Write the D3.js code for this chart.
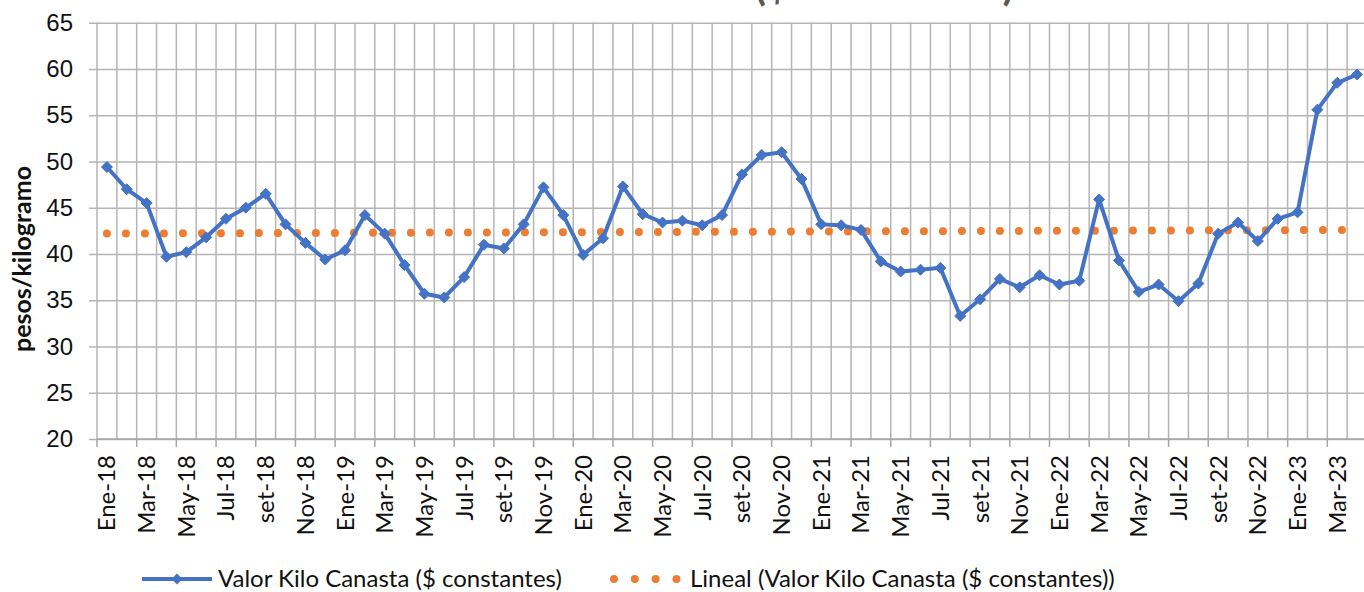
<!DOCTYPE html>
<html>
<head>
<meta charset="utf-8">
<script src="https://cdn.jsdelivr.net/npm/d3@7"></script>
<style>
  body { margin: 0; background: #fff; }
  svg { display: block; font-family: Lato, "Noto Sans", sans-serif; }
</style>
</head>
<body>
<div id="chart"></div>
<script>
  // month labels (Spanish, as in the original sheet)
  const monthNames = ['Ene','Feb','Mar','Abr','May','Jun','Jul','Ago','set','Oct','Nov','Dic'];
  const years = ['18','19','20','21','22','23'];
  const months = years.flatMap(y => monthNames.map(m => m + '-' + y)).slice(0, 64);

  // valor kilo canasta, $ constantes
  const values = [
    49.4, 47.0, 45.5, 39.7, 40.2, 41.8, 43.8, 45.0, 46.5, 43.2, 41.2, 39.4,
    40.4, 44.2, 42.2, 38.8, 35.7, 35.3, 37.5, 41.0, 40.6, 43.2, 47.2, 44.2,
    39.9, 41.7, 47.3, 44.3, 43.4, 43.6, 43.1, 44.2, 48.6, 50.7, 51.0, 48.1,
    43.2, 43.1, 42.6, 39.2, 38.1, 38.3, 38.5, 33.3, 35.1, 37.3, 36.4, 37.7,
    36.7, 37.1, 45.9, 39.3, 35.9, 36.7, 34.9, 36.8, 42.2, 43.4, 41.4, 43.8,
    44.5, 55.6, 58.5, 59.4
  ];

  const yTicks = [20, 25, 30, 35, 40, 45, 50, 55, 60, 65];

  const seriesName = 'Valor Kilo Canasta ($ constantes)';
  const trendName = 'Lineal (Valor Kilo Canasta ($ constantes))';

  const width = 1364, height = 592;
  const margins = {top: 22.7, right: -3, bottom: 153, left: 97};
  const fontSize = '24px';

  const blue = '#4472C4', orange = '#ED7D31', grid = '#b5b5b5';

  const svg = d3.select('#chart')
    .append('svg')
      .attr('width', width)
      .attr('height', height);

  const xScale = d3.scaleBand()
    .domain(months)
    .range([margins.left, width - margins.right])
    .padding(0);

  const yScale = d3.scaleLinear()
    .domain([20, 65])
    .range([height - margins.bottom, margins.top]);

  const cx = d => xScale(d) + xScale.bandwidth() / 2;

  // horizontal gridlines + y labels
  const yAxis = d3.axisLeft(yScale)
    .tickValues(yTicks)
    .tickSize(-(width - margins.right - margins.left) - 8)
    .tickPadding(16);

  const yGroup = svg.append('g')
    .attr('transform', `translate(${margins.left - 8}, 0)`)
    .call(yAxis);
  yGroup.select('.domain').remove();
  yGroup.selectAll('line').attr('stroke', grid).attr('stroke-width', 1.5);
  yGroup.selectAll('text')
    .attr('x', -16)
    .attr('text-anchor', 'end')
    .style('font-size', fontSize)
    .attr('fill', '#111');

  // vertical gridlines, one per month boundary
  svg.append('g')
    .selectAll('line')
    .data(months)
    .join('line')
      .attr('x1', d => xScale(d))
      .attr('x2', d => xScale(d))
      .attr('y1', yScale(65))
      .attr('y2', yScale(20))
      .attr('stroke', grid)
      .attr('stroke-width', 1.5);

  // x axis: ticks every two months, labels on the month centre
  const xGroup = svg.append('g')
    .attr('transform', `translate(0, ${yScale(20)})`);
  xGroup.append('line')
    .attr('x1', margins.left).attr('x2', width)
    .attr('stroke', '#a6a6a6').attr('stroke-width', 1.5);
  xGroup.selectAll('.tick')
    .data(months.filter((d, i) => i % 2 === 0))
    .join('line')
      .attr('x1', d => xScale(d)).attr('x2', d => xScale(d))
      .attr('y1', 0).attr('y2', 8)
      .attr('stroke', '#a6a6a6').attr('stroke-width', 1.5);
  xGroup.selectAll('text')
    .data(months.filter((d, i) => i % 2 === 0))
    .join('text')
      .attr('transform', d => `translate(${cx(d) + 8.5}, 16) rotate(-90)`)
      .attr('text-anchor', 'end')
      .style('font-size', fontSize)
      .attr('fill', '#111')
      .text(d => d);

  // linear trend (least squares over the series, like Excel's "Lineal")
  const n = values.length;
  const xs = d3.range(1, n + 1);
  const mx = d3.mean(xs), my = d3.mean(values);
  const slope = d3.sum(xs, (x, i) => (x - mx) * (values[i] - my)) / d3.sum(xs, x => (x - mx) ** 2);
  const intercept = my - slope * mx;

  svg.append('line')
    .attr('x1', cx(months[0]))
    .attr('y1', yScale(intercept + slope * 1))
    .attr('x2', cx(months[n - 1]))
    .attr('y2', yScale(intercept + slope * n))
    .attr('stroke', orange)
    .attr('stroke-width', 8)
    .attr('stroke-linecap', 'round')
    .attr('stroke-dasharray', '0 19');

  // main series
  const line = d3.line()
    .x((d, i) => cx(months[i]))
    .y(d => yScale(d));

  svg.append('path')
    .datum(values)
    .attr('d', line)
    .attr('fill', 'none')
    .attr('stroke', blue)
    .attr('stroke-width', 4)
    .attr('stroke-linejoin', 'round');

  const diamond = 'M0,-5.5L5.5,0L0,5.5L-5.5,0Z';
  svg.append('g')
    .selectAll('path')
    .data(values)
    .join('path')
      .attr('d', diamond)
      .attr('transform', (d, i) => `translate(${cx(months[i])}, ${yScale(d)})`)
      .attr('fill', blue)
      .attr('stroke', blue)
      .attr('stroke-width', 1);

  // axis title
  svg.append('text')
    .attr('transform', 'translate(31, 259) rotate(-90)')
    .attr('text-anchor', 'middle')
    .style('font-size', '25px')
    .style('font-weight', 'bold')
    .attr('fill', '#111')
    .text('pesos/kilogramo');

  // chart title (cut off at the top in the original)
  svg.append('text')
    .attr('x', 1014)
    .attr('y', 0)
    .attr('text-anchor', 'end')
    .style('font-size', '42px')
    .style('font-weight', 'bold')
    .attr('fill', '#595959')
    .text(seriesName);

  // legend
  const legend = svg.append('g').attr('transform', 'translate(0, 579)');
  legend.append('line')
    .attr('x1', 142).attr('x2', 212)
    .attr('stroke', blue).attr('stroke-width', 4);
  legend.append('path')
    .attr('d', diamond)
    .attr('transform', 'translate(177, 0)')
    .attr('fill', blue);
  legend.append('text')
    .attr('x', 218).attr('dy', '0.35em')
    .style('font-size', fontSize)
    .attr('fill', '#111')
    .text(seriesName);
  legend.append('line')
    .attr('x1', 614).attr('x2', 677)
    .attr('stroke', orange).attr('stroke-width', 8)
    .attr('stroke-linecap', 'round')
    .attr('stroke-dasharray', '0 20.8');
  legend.append('text')
    .attr('x', 690).attr('dy', '0.35em')
    .style('font-size', fontSize)
    .attr('fill', '#111')
    .text(trendName);
</script>
</body>
</html>
